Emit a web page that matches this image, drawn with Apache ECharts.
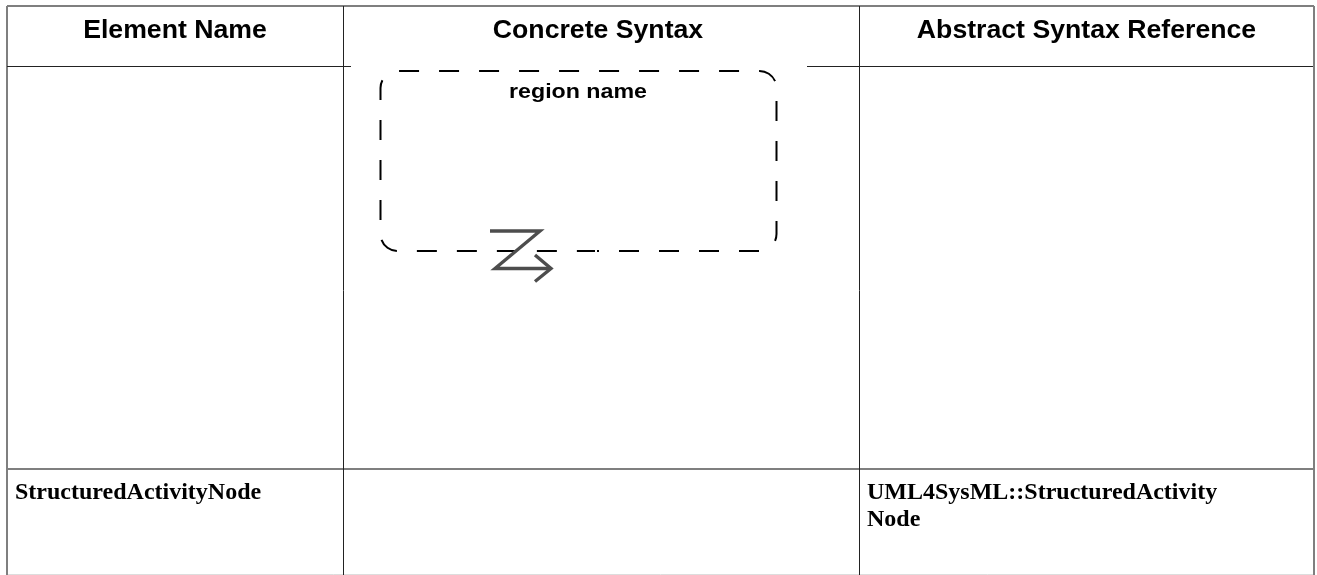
<!DOCTYPE html>
<html>
<head>
   <meta charset="utf-8">
   <title>StructuredActivityNode</title>
   <script type="text/javascript" src="https://cdn.jsdelivr.net/npm/echarts@6/dist/echarts.min.js"></script>
   <style type="text/css">
      html, body { margin: 0; padding: 0; background: #fff; }
      #main { width: 1317px; height: 575px; }
   </style>
</head>
<body>
<div id="main"></div>
<script type="text/javascript">
  //table text
  var headers = ["Element Name", "Concrete Syntax", "Abstract Syntax Reference"];
  var headerCentres = [175, 598, 1086.5];
  var rowCells = ["StructuredActivityNode", "UML4SysML::StructuredActivity\nNode"];
  var rowCellStarts = [15, 867];
  var regionName = ["region name"];

  //table rules as x1, y1, x2, y2 on a pixel scale
  var greyRules = [[7, 6, 1314, 6], [7, 6, 7, 575], [1314, 6, 1314, 575], [7, 469, 1314, 469]];
  var paleRules = [[7, 574.5, 1314, 574.5]];
  var darkRules = [[343.5, 6, 343.5, 575], [859.5, 6, 859.5, 575], [7, 66.5, 351, 66.5], [807, 66.5, 1313, 66.5]];

  //interrupt symbol
  var zigzag = [[490, 231], [540, 231], [495, 268.5], [550, 268.5]];
  var arrowHead = [[535, 255], [551, 268.5], [535, 281.5]];

  //region outline, left, top, right, bottom, corner
  var regionBox = [[380.5, 71, 776.5, 251, 17]];
  var regionSeam = [597];

  function ruleSeries(rules, color, width) {
    return {
      type: "custom",
      clip: false,
      silent: true,
      data: rules,
      renderItem: function (params, api) {
        var a = api.coord([api.value(0), api.value(1)]);
        var b = api.coord([api.value(2), api.value(3)]);
        return {
          type: "line",
          shape: { x1: a[0], y1: a[1], x2: b[0], y2: b[1] },
          style: { stroke: color, lineWidth: width }
        };
      }
    };
  }

  function pathSeries(points, color) {
    return {
      type: "line",
      data: points,
      silent: true,
      clip: false,
      symbol: "none",
      lineStyle: { color: color, width: 3.4, join: "miter", cap: "butt" }
    };
  }

  function textSeries(labels, xs, y, font, align, lineHeight) {
    return {
      type: "custom",
      clip: false,
      silent: true,
      data: labels.map(function (t, i) { return [xs[i], y, t]; }),
      renderItem: function (params, api) {
        var p = api.coord([api.value(0), api.value(1)]);
        return {
          type: "text",
          style: {
            text: labels[params.dataIndex],
            x: p[0],
            y: p[1],
            font: font,
            fill: "#000",
            align: align,
            verticalAlign: "top",
            lineHeight: lineHeight
          }
        };
      }
    };
  }

  //dashed outline, it starts at the seam on the bottom edge and runs counter clockwise
  var regionSeries = {
    type: "custom",
    clip: false,
    silent: true,
    data: regionBox,
    renderItem: function (params, api) {
      var tl = api.coord([api.value(0), api.value(1)]);
      var br = api.coord([api.value(2), api.value(3)]);
      var r = api.value(4);
      var s = api.coord([regionSeam[0], api.value(3)]);
      var d = "M" + s[0] + " " + br[1] +
        "L" + (br[0] - r) + " " + br[1] +
        "A" + r + " " + r + " 0 0 0 " + br[0] + " " + (br[1] - r) +
        "L" + br[0] + " " + (tl[1] + r) +
        "A" + r + " " + r + " 0 0 0 " + (br[0] - r) + " " + tl[1] +
        "L" + (tl[0] + r) + " " + tl[1] +
        "A" + r + " " + r + " 0 0 0 " + tl[0] + " " + (tl[1] + r) +
        "L" + tl[0] + " " + (br[1] - r) +
        "A" + r + " " + r + " 0 0 0 " + (tl[0] + r) + " " + br[1] +
        "L" + (s[0] - 2) + " " + br[1];
      return {
        type: "path",
        shape: { pathData: d },
        style: { fill: null, stroke: "#000", lineWidth: 2, lineDash: [20, 20], lineDashOffset: 18 }
      };
    }
  };

  //the name sits stretched a little, the source text is spaced out
  var regionNameSeries = {
    type: "custom",
    clip: false,
    silent: true,
    data: regionName.map(function (t) { return [578, 92, t]; }),
    renderItem: function (params, api) {
      var p = api.coord([api.value(0), api.value(1)]);
      return {
        type: "text",
        x: p[0],
        y: p[1],
        scaleX: 1.16,
        style: {
          text: regionName[params.dataIndex],
          x: 0,
          y: 0,
          font: "bold 20px 'Liberation Sans'",
          fill: "#000",
          align: "center",
          verticalAlign: "middle"
        }
      };
    }
  };

  var chart = echarts.init(document.getElementById("main"));
  chart.setOption({
    animation: false,
    backgroundColor: "#fff",
    grid: { left: 0, right: 0, top: 0, bottom: 0 },
    xAxis: { type: "value", min: 0, max: 1317, show: false },
    yAxis: { type: "value", min: 0, max: 575, inverse: true, show: false },
    series: [
      ruleSeries(paleRules, "#dddddd", 1),
      ruleSeries(greyRules, "#7f7f7f", 2),
      ruleSeries(darkRules, "#222222", 1),
      regionSeries,
      pathSeries(zigzag, "#4d4d4d"),
      pathSeries(arrowHead, "#4d4d4d"),
      regionNameSeries,
      textSeries(headers, headerCentres, 17, "bold 26.67px 'Liberation Sans'", "center"),
      textSeries(rowCells, rowCellStarts, 479, "bold 24px 'Liberation Serif'", "left", 27)
    ]
  });
</script>
</body>
</html>
